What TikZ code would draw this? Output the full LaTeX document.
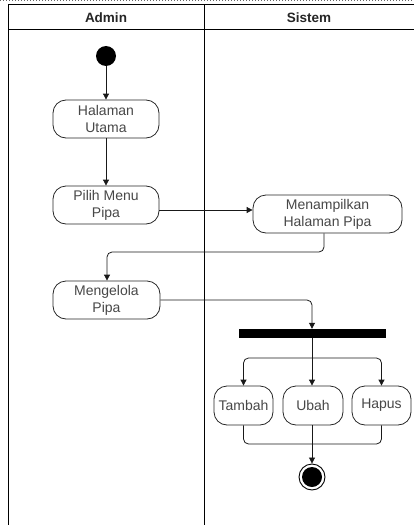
\documentclass[tikz,border=0pt]{standalone}
\usepackage{fontspec}
\setmainfont{Liberation Sans}
\usetikzlibrary{arrows.meta}
\begin{document}
\begin{tikzpicture}[x=1pt,y=-1pt,
  act/.style={draw=black!85, rounded corners=13pt, line width=0.8pt, minimum height=38pt, align=center, font=\fontsize{14}{17}\selectfont, text=black!72, inner sep=1pt},
  flow/.style={draw=black!90, line width=0.8pt, -{Triangle[length=6pt,width=6pt]}},
  plain/.style={draw=black!90, line width=0.8pt},
  hdr/.style={font=\bfseries\fontsize{13.5}{15}\selectfont, text=black!85}
]
\useasboundingbox (0,0) rectangle (414,527);
% frame
\draw[black!60, dotted, line width=1pt] (0,1) -- (414,1);
\draw[line width=1pt] (414,5) -- (8,5) -- (8,525);
\draw[line width=1pt] (8,30) -- (414,30);
\draw[line width=1pt] (204,5) -- (204,525);
\node[hdr] (hA) at (106,17.5) {Admin};
\node[hdr] (hS) at (309,17.5) {Sistem};
% nodes
\node[circle, fill=black, minimum size=20pt, inner sep=0pt] (start) at (106,56) {};
\node[act, minimum width=106pt] (hu) at (106,119) {Halaman\\Utama};
\node[act, minimum width=106pt] (pm) at (106,205) {Pilih Menu\\Pipa};
\node[act, minimum width=149pt] (mh) at (327.5,214) {Menampilkan\\Halaman Pipa};
\node[act, minimum width=107pt] (mp) at (106.5,300) {Mengelola\\Pipa};
\node[fill=black, minimum width=147pt, minimum height=9pt, inner sep=0pt] (bar) at (312.5,333.5) {};
\node[act, minimum width=59pt, minimum height=39pt, inner sep=0pt] (tb) at (243.5,405.5) {Tambah};
\node[act, minimum width=60pt, minimum height=39pt, inner sep=0pt] (ub) at (313,405.5) {Ubah};
\node[act, minimum width=59pt, minimum height=39pt, inner sep=0pt] (hp) at (381.5,405.5) {Hapus};
\node[circle, draw=black, line width=0.9pt, minimum size=26pt, inner sep=0pt] (end) at (312,477) {};
\node[circle, fill=black, minimum size=20pt, inner sep=0pt] (endin) at (312,477) {};
% connectors
\draw[flow] (start) -- (hu);
\draw[flow] (hu) -- (pm);
\draw[flow] (pm.east |- 0,210) -- (mh.west |- 0,210);
\draw[flow, rounded corners=5pt] (mh.south -| 324,0) |- (107,252) -- (mp.north -| 107,0);
\draw[flow, rounded corners=5pt] (mp.east) -| (bar.north -| 312,0);
\draw[flow] (bar.south -| 312,0) -- (ub.north -| 312,0);
\draw[flow, rounded corners=5pt] (312,358) -| (tb.north);
\draw[flow, rounded corners=5pt] (312,358) -| (hp.north);
\draw[plain, rounded corners=5pt] (tb.south) |- (312,444);
\draw[plain, rounded corners=5pt] (hp.south) |- (312,444);
\draw[flow] (ub.south -| 312,0) -- (end.north);
\end{tikzpicture}
\end{document}
